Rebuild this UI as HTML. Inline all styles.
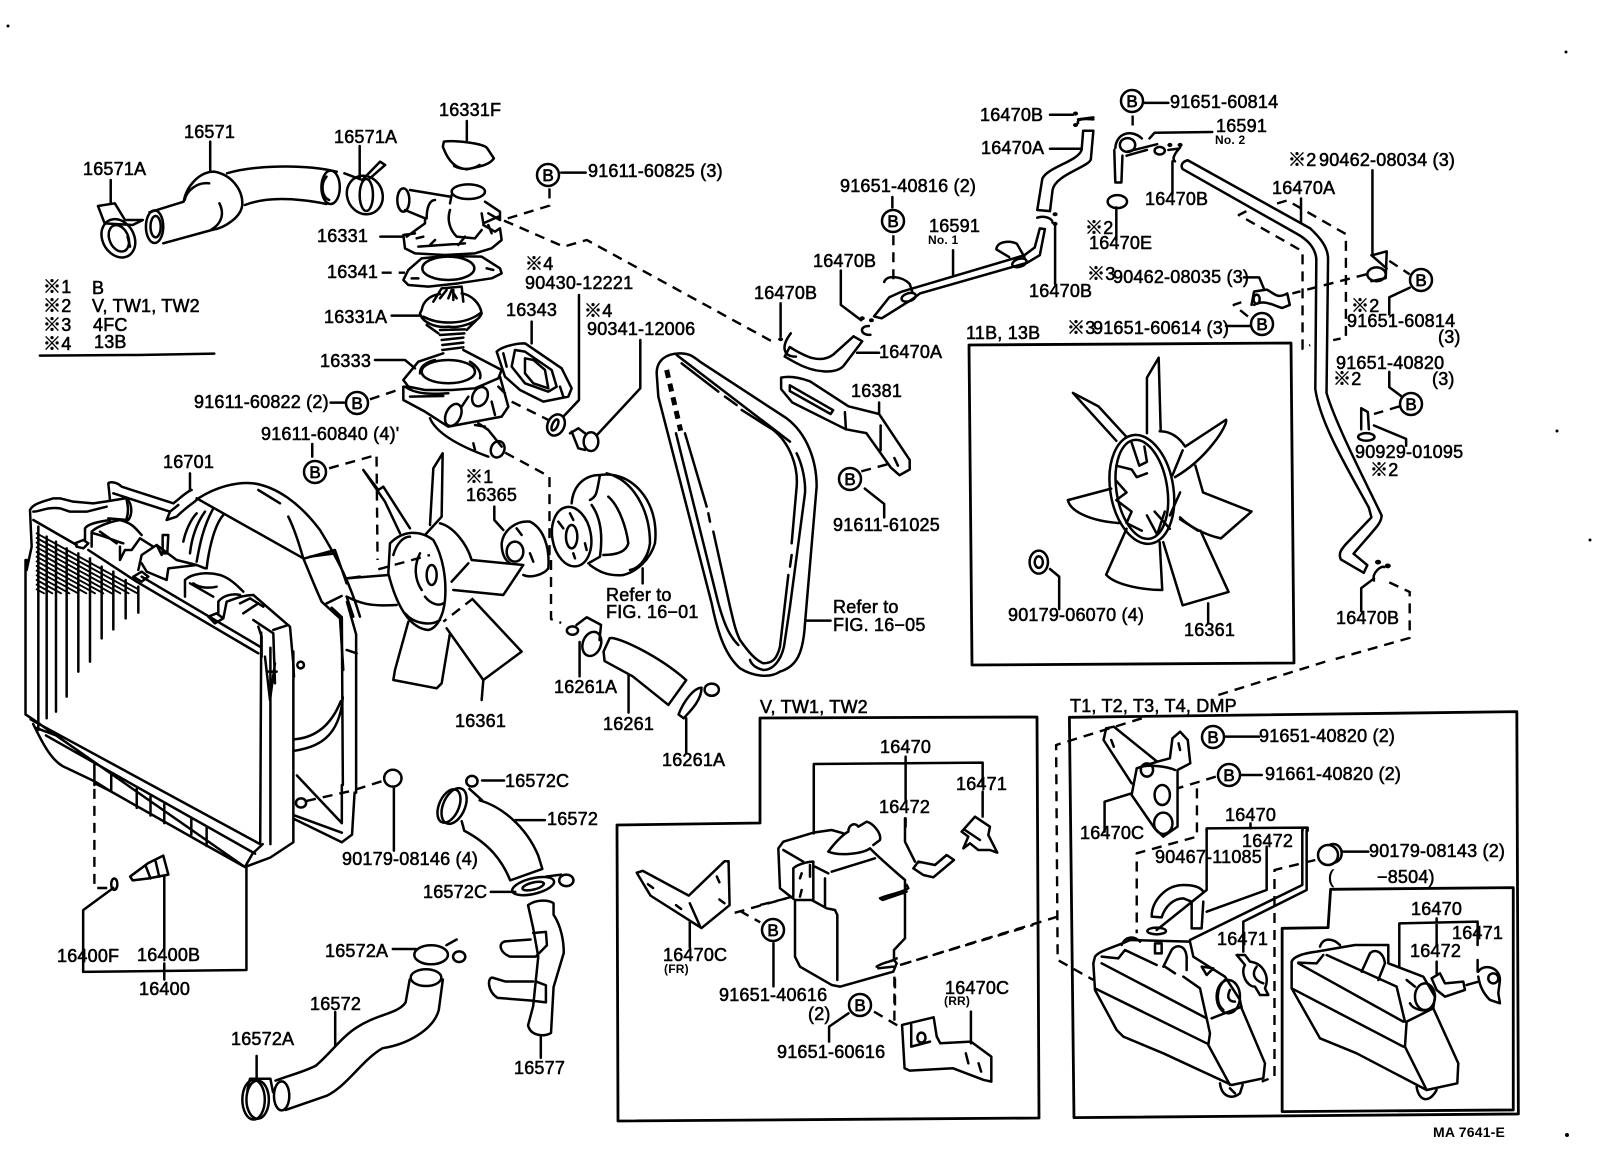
<!DOCTYPE html>
<html><head><meta charset="utf-8"><title>Cooling system parts diagram</title>
<style>
html,body{margin:0;padding:0;background:#fff}
svg{display:block}
svg *{vector-effect:non-scaling-stroke}
path,ellipse,circle{fill:none;stroke:#000;stroke-width:2.5;stroke-linejoin:round;stroke-linecap:round}
.d{stroke-dasharray:10 7;stroke-linecap:butt;stroke-width:2.4}
.th{stroke-width:1.9}
.w{fill:#fff}
.b{fill:#fff}
.dot{fill:#000;stroke-width:1}
text{font:18px "Liberation Sans","Noto Sans CJK JP",sans-serif;letter-spacing:.2px;fill:#000;stroke:#000;stroke-width:.55}
.s{font-size:12px;font-weight:bold;stroke-width:0}
.bl{font-size:17px;text-anchor:middle;stroke-width:.7;letter-spacing:0}
</style></head><body>
<svg xmlns="http://www.w3.org/2000/svg" width="1600" height="1158" viewBox="0 0 1600 1158">
<rect width="1600" height="1158" fill="#fff"/>

<!-- ZONE 1 top-left -->
<g transform="translate(0 60) scale(.5102 .3333)">
<path d="M293,457 L360,425 C365,380 390,335 420,335 C455,345 475,390 475,430 C475,470 440,505 415,510 L320,550 M445,340 C490,318 590,310 660,335 M480,435 C530,405 600,420 640,432 M362,420 C365,395 385,365 410,370 M430,430 C440,460 435,490 415,508 M412,245 L412,335"/>
<ellipse cx="303" cy="500" rx="17" ry="49"/><ellipse cx="305" cy="500" rx="10" ry="32"/>
<ellipse cx="648" cy="382" rx="18" ry="50"/><path d="M640,350 C628,370 630,410 645,420"/>
<ellipse cx="715" cy="405" rx="35" ry="58" transform="rotate(-5 715 405)"/><ellipse cx="718" cy="405" rx="13" ry="48"/>
<path d="M675,340 L710,360 L745,305 L755,315 L725,355 M705,258 L705,355"/>
<ellipse cx="232" cy="535" rx="32" ry="58" transform="rotate(-10 232 535)"/><ellipse cx="233" cy="535" rx="19" ry="40" transform="rotate(-10 233 535)"/>
<path d="M192,438 L225,430 L245,480 L280,480 L260,495 L205,490Z M217,360 L217,432 M250,530 L255,560"/>
<path d="M870,245 C890,240 950,250 955,265 L968,295 C960,315 940,320 915,328 C895,325 880,310 868,260Z M890,318 C905,330 925,330 940,315 M915,183 L915,240"/>
<path d="M1100,338 L1148,338 M648,1028 L680,1028 M612,1152 L612,1190 M1255,840 L1255,985 L1170,1125"/>
<path class="d" d="M1077,385 L1077,437 L985,480 L1105,560 L1150,540 L1520,850 M725,1018 L780,990 M645,1225 L738,1185 L740,1500 M990,1178 L1077,1250 L1077,1500"/>
<path d="M1530,730 L1530,830 M1550,820 C1530,860 1535,890 1560,890"/><circle class="dot" cx="1530" cy="838" r="4"/>
<path d="M78,887 L270,885 L420,881"/>
</g>

<!-- thermostat group (crop 385,170) -->
<g transform="translate(385 170) scale(.3333)">
<ellipse cx="55" cy="90" rx="18" ry="35"/><ellipse cx="250" cy="65" rx="50" ry="22"/>
<path d="M75,60 L195,80 M60,120 L120,145 L120,160 L65,200 M125,145 C125,110 135,90 150,90 M200,75 L195,100 M195,120 C185,150 195,180 215,200 L270,205 L290,180 M300,95 L345,125 L345,150 L310,130 M290,130 L295,160 L340,140 M295,165 L330,185 L345,175 L350,210 L320,235 L270,250 L180,255 L90,250 L60,235 L55,195 L90,190 M95,205 L115,200 M100,230 L240,220 M240,200 L220,225 M150,210 L135,225 M-14,200 L55,200 M310,165 L320,190"/>
<path d="M55,330 L70,300 L110,265 L180,258 L290,260 L345,295 L350,310 L320,325 L220,340 L130,350 L70,345 Z M80,325 L100,325 M305,295 L325,300"/>
<ellipse cx="190" cy="295" rx="78" ry="35"/>
<path class="d" d="M-10,308 L60,308"/>
<path d="M145,395 L170,355 L230,350 L235,395 M165,385 L185,360 M190,385 L200,360 L215,385 M205,360 L205,390 M110,420 C115,390 140,375 165,372 M230,370 C260,375 285,400 290,430 C280,460 220,475 190,470 C150,475 110,455 105,430 L110,420 M115,440 C160,465 240,465 285,430 M20,437 L105,437 M125,465 L160,490 M285,440 L245,480 M165,480 L240,478 M165,495 L238,490 M170,510 L235,503 M172,525 L235,518 M172,540 L235,532"/>
<path d="M-30,570 L60,570 L90,595 M55,630 L100,575 L175,550 M235,540 L350,600 L340,625 L270,655 L200,660 L120,660 L70,650 L55,630 M105,610 C105,585 130,575 150,570 M255,575 C280,590 290,610 285,625 M55,650 L55,690 L120,725 L190,770 L350,740 L370,710 L345,620 M75,680 L175,678 M60,650 C100,680 170,670 190,670 M230,710 L250,680 M135,745 C150,780 200,820 310,860 M350,830 L310,780 L280,760 M265,820 L270,840 M270,765 L300,770 M320,695 L330,735 M340,650 L360,670"/>
<ellipse cx="190" cy="605" rx="80" ry="35"/><ellipse cx="205" cy="735" rx="22" ry="35" transform="rotate(25 205 735)"/><ellipse cx="285" cy="680" rx="22" ry="30" transform="rotate(25 285 680)"/><ellipse cx="338" cy="838" rx="20" ry="25" transform="rotate(20 338 838)"/>
<path d="M335,545 C345,535 380,520 420,520 L530,595 L560,655 L550,680 L475,695 L405,660 L360,620 Z M390,540 L380,590 L420,640 L490,665 L515,650 L500,600 L420,545 Z M420,565 L420,610 L445,640 L490,655 L480,600 L445,570 Z M355,550 L365,590 M525,650 L535,680 M440,455 L440,520"/>
<ellipse cx="513" cy="765" rx="25" ry="33" transform="rotate(25 513 765)"/><ellipse cx="510" cy="765" rx="8" ry="18" transform="rotate(25 510 765)"/>
<path d="M582,375 L582,690 L535,740 M555,790 L580,775 L600,790 M560,785 L580,835 L600,840"/>
<ellipse cx="618" cy="815" rx="22" ry="28"/>
<path class="d" d="M380,695 L490,750"/>
</g>

<!-- radiator top & shroud (crop 10,470) -->
<g transform="translate(10 470) scale(.3333)">
<path class="th" d="M80,190 L385,358 M80,204 L382,370 M80,218 L356,370 M80,232 L331,370 M80,246 L305,370 M80,260 L280,370 M80,274 L255,370 M80,288 L229,370 M80,302 L204,370 M80,316 L178,370 M80,330 L153,370 M80,344 L127,370 M80,358 L102,370"/>
<path d="M85,170 V780 M110,200 V745 M138,215 V725 M170,235 V680 M205,250 V605 M240,265 V575 M275,290 V505 M310,305 V478 M347,330 V445 M385,350 V428"/>
<path d="M50,270 L50,300 L65,230 L60,120 C70,100 100,95 130,85 L150,85 L190,95 L250,100 L285,95 M70,125 C90,125 110,110 150,115 L180,125 L230,125 L290,110 M285,95 L345,85 C365,90 370,130 355,150 L295,145 M350,90 C355,110 355,130 350,145 M195,220 L220,210 L235,220 L220,235 L200,230Z M225,210 L225,175 C235,160 270,155 300,150 M245,230 L245,185 C260,170 300,155 330,150 C370,160 380,180 395,195 M70,150 L200,225 M380,335 L745,550 M395,320 L750,530 M235,240 L380,335 M250,190 C290,200 320,215 340,220 M270,185 L320,220 M330,230 L330,270 L345,240 L365,240 L390,205 L430,230 M385,300 L395,255 L440,225 L500,270 L560,285 L585,295 M440,225 L455,255 M458,195 L475,195 L472,250 L458,250Z M370,320 L395,305 L415,320 L395,335Z M395,280 L410,305 L470,330 L475,295 L560,285"/>
<path d="M525,380 L525,330 C545,310 590,305 630,315 C660,325 680,345 700,365 M540,340 L610,380 M550,340 C570,355 600,355 620,350 M595,440 L620,430 L640,445 L615,460Z M625,430 L625,395 C640,375 670,370 690,375 M640,445 L650,395 C680,385 700,375 730,375 M730,375 L840,470 L850,580 L852,620 M690,400 L720,385 L760,410 M700,430 L745,400 M730,450 L790,490 L795,640 M745,470 L755,500 L755,560 M790,480 L835,465 M765,560 L780,690 L795,580 M770,605 L800,605"/>
<circle cx="872" cy="585" r="10"/>
<path d="M295,40 C300,35 320,35 335,50 L490,100 C510,85 530,65 545,60 M295,40 L300,90 M310,70 L480,125 L470,150 M480,125 L505,105 M470,150 L500,140 C530,110 550,100 565,85 M565,85 C620,50 680,35 730,40 C800,50 870,100 930,180 C985,270 1020,340 1050,440 M560,85 L880,265 M885,265 L975,240 L1010,340 M900,260 L975,250 M880,265 C895,300 910,340 935,395 L990,445 L1000,600 M745,60 L810,100 M835,140 C860,190 875,250 880,265 M560,130 C540,150 525,190 520,215 M585,125 C560,160 545,205 540,250 M610,115 C580,170 570,220 560,275 M640,135 C610,170 595,250 590,295 M540,10 L540,60 M1010,325 L1050,320 M950,400 L995,378 M1010,380 L1030,440 M1010,540 L1040,550"/>
</g>

<!-- radiator lower -->
<g transform="translate(0 560) scale(.5102 .3814)">
<path d="M50,0 L50,405 L65,418 L480,805 L530,780 L575,740 L575,240 M512,190 L510,745 M60,418 L510,745 M90,460 L500,770 M495,770 L515,745 M480,805 L495,770 M530,230 L530,745 M65,430 C80,470 100,530 130,545 L185,580 L215,605 L400,745 L480,805 M185,535 L185,590 M218,560 L218,605 M268,600 L268,650 M295,620 L295,670 M322,640 L322,690 M375,675 L375,720 M405,700 L405,750 M185,585 L215,605 M70,440 L120,465"/>
<path d="M650,125 L670,150 L672,590 M680,110 L698,195 L698,610 M578,680 L670,740 L690,720 L695,610 M582,565 L670,690 L670,590 M578,670 L670,715 M578,500 C620,490 665,470 672,360 M578,470 C620,465 650,430 668,370"/>
<ellipse cx="590" cy="637" rx="10" ry="12"/>
<path class="d" d="M600,632 L690,605 L760,575"/>
<ellipse cx="770" cy="572" rx="17" ry="22"/><path d="M772,595 L772,762"/>
<path class="d" d="M185,600 L185,860 L215,860"/>
<ellipse cx="224" cy="850" rx="6" ry="15"/>
<path d="M222,860 L163,918 L163,1080 L483,1075 L483,805 M255,830 L290,795 L320,775 L330,825 L290,835 L260,840Z M285,800 L295,835 M305,790 L312,830 M322,830 L322,1020 M322,1058 L322,1100"/>
<path class="d" d="M1080,0 L1080,155 L1100,165"/>
<path d="M1195,205 C1210,200 1290,250 1345,315 L1310,380 L1240,305 L1185,265 L1183,240 Z M1130,170 L1150,150 L1178,170 L1175,210 M1136,215 L1136,305 M1330,405 C1340,370 1360,335 1375,335 C1375,370 1350,400 1340,415Z M1345,415 L1345,505 M1232,300 L1232,400"/>
<ellipse cx="1160" cy="220" rx="18" ry="32" transform="rotate(10 1160 220)"/><circle cx="1122" cy="185" r="11"/><ellipse cx="1395" cy="340" rx="14" ry="16"/>
<ellipse cx="890" cy="645" rx="22" ry="48" transform="rotate(15 890 645)"/><ellipse cx="880" cy="645" rx="20" ry="45" transform="rotate(15 880 645)"/><ellipse cx="925" cy="580" rx="11" ry="14"/>
<path d="M945,578 L988,578 M920,600 L945,630 M940,630 C980,645 1030,695 1055,775 L1063,810 L1000,840 C985,790 960,745 910,710 L905,685 M1010,682 L1068,682 M1070,830 L1100,825 M962,870 L1010,870"/>
<ellipse cx="1045" cy="855" rx="43" ry="20" transform="rotate(-20 1045 855)"/><ellipse cx="1045" cy="855" rx="22" ry="9" transform="rotate(-20 1045 855)"/><ellipse cx="1110" cy="840" rx="14" ry="15"/>
<path d="M1035,905 C1050,890 1075,890 1085,900 L1085,930 C1100,960 1105,1000 1105,1030 L1085,1120 L1080,1240 C1070,1250 1040,1250 1035,1220 L1045,1170 L1055,1040 L1045,965 Z M1045,978 L1070,975 L1072,1010 L1050,1040 L1000,1040 C980,1030 975,1005 990,1000 L1040,995 M1050,1105 L1070,1115 L1070,1160 L1040,1155 L975,1148 C955,1130 955,1095 965,1095 L990,1105 L1045,1105 M1060,1250 L1060,1305"/>
<ellipse cx="845" cy="1035" rx="33" ry="25"/><ellipse cx="900" cy="1040" rx="12" ry="14"/><ellipse cx="835" cy="1095" rx="30" ry="22"/>
<path d="M875,1010 L895,995 M770,1020 L815,1020 M803,1100 L795,1160 C780,1190 740,1190 700,1225 C670,1250 650,1290 620,1325 C600,1340 570,1350 540,1365 M868,1100 L860,1180 C850,1230 800,1270 750,1280 C710,1310 680,1380 640,1405 L560,1442 M657,1185 L657,1275 M485,1390 L490,1360 L530,1360 L535,1395 M503,1300 L503,1360"/>
<ellipse cx="552" cy="1405" rx="15" ry="38"/><ellipse cx="497" cy="1415" rx="22" ry="52"/><ellipse cx="505" cy="1415" rx="22" ry="50"/>
<path d="M1248,820 L1260,815 L1350,880 L1420,790 L1428,790 L1430,905 L1375,965 L1275,880Z M1352,950 L1352,1015 M1352,900 L1372,960 M1405,830 L1410,845 M1410,890 L1420,900 M1270,850 L1280,860 M1325,905 L1335,915"/>
<path class="d" d="M1440,925 L1560,880 M1450,920 L1490,950"/>
<path d="M1516,1005 L1516,1118"/>
</g>

<!-- left fan + pulley (crop 340,440) -->
<g transform="translate(340 440) scale(.3333)">
<path d="M308,40 L280,85 L270,255 M308,40 L305,230 L255,285 M70,90 L115,150 L130,140 L210,265 M70,90 L135,185 L180,280 M150,310 C190,270 240,270 280,300 C310,350 320,420 315,480 C310,530 290,565 265,570 C210,565 170,500 145,400 L150,310 M300,250 C340,260 380,310 395,360 M240,340 C220,380 225,420 245,450 M255,470 C270,490 295,500 310,490 M195,520 C220,550 270,560 300,540 M160,345 C170,310 190,290 210,290 M395,360 L550,375 L490,465 L340,450 M385,370 L335,425 M145,405 L20,415 M20,470 C60,490 90,500 170,495 M205,545 L165,690 L160,720 L290,745 L305,730 L330,580 M400,480 L545,635 L430,720 L320,565 M430,720 L425,780"/>
<ellipse cx="275" cy="405" rx="15" ry="30"/>
<path class="d" d="M400,475 L310,545 M115,388 L270,345"/>
<path d="M485,310 C490,270 530,240 570,245 C610,265 630,320 625,385 C610,405 570,415 550,405 M485,310 C485,340 495,360 510,370 M463,200 L463,240 L490,270 M530,265 L545,285 M570,340 L580,365"/>
<ellipse cx="525" cy="335" rx="25" ry="30"/>
<ellipse cx="695" cy="290" rx="58" ry="90" transform="rotate(-10 695 290)"/><ellipse cx="695" cy="290" rx="17" ry="35"/>
<path d="M755,195 C780,230 790,280 780,350 L745,370 M695,190 C700,130 740,105 780,105 M750,180 C770,170 770,160 780,105 M780,105 C870,90 960,180 945,310 C930,360 890,395 850,405 C800,410 770,390 750,375 M800,100 C880,120 930,210 930,310 C925,350 900,385 870,390 M805,170 C840,200 860,270 865,310 C860,330 840,345 790,345 M908,385 L908,430 M690,220 L700,240 M700,340 L705,355 M735,310 L740,330 M655,245 L670,265"/>
</g>

<!-- belt (crop 640,340) -->
<g transform="translate(640 340) scale(.3333)">
<path d="M50,100 C50,60 80,40 120,40 C150,40 160,50 180,65 L440,235 C500,280 530,360 530,440 L495,850 C490,940 470,980 420,995 C390,1015 340,1010 300,985 C260,950 235,890 215,790 L55,170 Z M110,45 L450,305 M470,340 C490,380 497,430 495,460 L450,800 L435,900 C430,950 405,990 370,990 C350,985 335,975 330,960 M108,280 L235,790 C255,860 270,890 295,915"/>
<path d="M125,70 L235,155 M255,170 L290,195 M305,210 L400,270 C450,310 475,380 470,440 L455,610 M455,645 L450,680 M445,705 L420,920 C410,960 395,970 370,970 C345,960 325,935 300,900 C285,870 280,840 270,800 L220,575 M210,545 L205,520 M200,500 L135,280"/>
<path d="M80,90 L122,272" style="stroke-dasharray:8 6;stroke-width:5;stroke-linecap:butt"/>
</g>

<!-- ZONE 2 top-right -->
<g transform="translate(800 60) scale(.5102 .3827)">
<path d="M490,143 L535,143 M545,165 C540,150 570,155 575,155 M545,155 L575,150 M555,185 L575,185 L570,260 C565,280 500,300 495,340 L490,395 L465,392 L475,310 C485,280 545,265 552,235 L555,185 M490,232 L552,232 M465,412 C480,405 495,415 495,425 M500,430 L500,585"/>
<circle class="dot" cx="540" cy="140" r="4"/><circle class="dot" cx="540" cy="170" r="4"/><circle class="dot" cx="500" cy="403" r="4"/><circle class="dot" cx="500" cy="428" r="4"/>
<path d="M470,440 L480,442 L470,510 L445,530 L235,610 L220,625 L160,675 L145,670 L175,620 L200,605 L440,510 L460,490 Z M165,580 C170,560 200,565 215,585 L220,605 M385,495 C385,475 410,470 425,480 L440,515 M385,495 L410,515 M300,497 L300,565 M181,358 L181,385"/>
<ellipse cx="213" cy="620" rx="15" ry="10" transform="rotate(-30 213 620)"/><ellipse cx="430" cy="530" rx="15" ry="10" transform="rotate(-30 430 530)"/>
<path class="d" d="M183,458 L183,575"/>
<path d="M80,550 L80,640 L120,680 M135,695 C115,695 118,720 138,718"/>
<circle class="dot" cx="122" cy="675" r="4"/><circle class="dot" cx="140" cy="680" r="4"/>
<path d="M105,722 L122,735 L85,800 C70,820 30,820 -10,790 L-30,775 L-20,750 C10,775 40,795 65,770 L105,722 M155,765 L112,765"/>
<ellipse cx="642" cy="222" rx="15" ry="18"/>
<path d="M620,320 L630,320 L632,250 M616,235 L618,320 M618,230 C620,190 650,180 670,205 M640,240 L700,220 M640,250 L680,235 M672,112 L722,112 M808,188 L695,190 L685,205 M722,235 L740,232 M735,265 C725,255 745,230 745,228 M730,265 L730,350"/>
<path class="d" d="M652,145 L652,190"/>
<ellipse cx="705" cy="237" rx="10" ry="10"/><circle class="dot" cx="725" cy="222" r="4"/><circle class="dot" cx="745" cy="222" r="4"/>
<ellipse cx="622" cy="370" rx="19" ry="17"/>
<path d="M620,385 L620,470"/>
<path d="M760,262 L1000,440 C1020,465 1035,490 1035,520 L1032,870 C1050,950 1100,1080 1140,1190 C1140,1210 1130,1220 1085,1290 L1112,1320 L1105,1340 L1060,1305 C1055,1290 1060,1280 1070,1265 L1120,1195 L1115,1170 C1070,1060 1020,950 1010,860 L1012,520 C1010,490 995,470 975,455 L750,285 C745,275 750,265 760,262 Z M982,362 L982,425"/>
<path class="d" d="M935,375 L955,367 L1070,455 L1070,725 L1045,732 M875,395 L860,405 L985,500 L985,755 L1000,745"/>
<path d="M1122,288 L1122,510 M1122,510 L1150,500 L1148,570 L1120,578 M1120,510 L1150,545 M1195,595 L1155,620 L1155,665"/>
<ellipse cx="1130" cy="560" rx="18" ry="18"/>
<path class="d" d="M1155,525 L1195,560 M1110,560 L965,610"/>
<path d="M870,568 L900,568 L910,600 M885,640 L890,605 L915,600 C930,610 935,625 955,610 L960,640 L945,648 C925,640 910,625 890,640 M835,695 L882,695"/>
<ellipse cx="895" cy="625" rx="6" ry="12"/>
<path class="d" d="M878,670 L850,640 L865,633"/>
<path d="M1155,815 L1155,855 L1180,880 M1100,910 L1113,920 L1115,965 M1100,910 L1100,965 M1125,955 L1188,990 L1188,1008"/>
<ellipse cx="1110" cy="985" rx="16" ry="10"/>
<path class="d" d="M1175,905 L1125,925"/>
<path d="M1100,1440 L1100,1380 L1125,1355 M1125,1360 C1120,1340 1140,1320 1145,1325"/>
<circle class="dot" cx="1133" cy="1312" r="5"/><circle class="dot" cx="1152" cy="1322" r="5"/>
<path class="d" d="M1155,1365 L1195,1390 L1195,1510 L1050,1565"/>
<path d="M680,975 L680,830 L703,778 L707,970 M535,870 L585,905 L640,985 M535,870 L620,995 M705,970 C730,970 745,990 755,1010 L835,940 C840,950 800,1040 735,1090 M790,1130 L885,1180 L825,1250 C790,1240 760,1215 745,1195 M790,1130 L775,1060 M610,1120 L525,1150 C530,1180 570,1205 625,1210 M640,1225 L600,1345 C620,1375 680,1385 710,1385 L705,1260 M712,1260 L750,1425 L840,1390 L785,1230 M780,1230 L745,1200 M750,1020 L730,1085 M745,1130 L725,1190"/>
<ellipse cx="670" cy="1122" rx="62" ry="143" transform="rotate(-6 670 1122)"/><ellipse cx="670" cy="1122" rx="50" ry="130" transform="rotate(-6 670 1122)"/>
<path d="M650,1000 L665,1060 L680,1050 L675,1010 M620,1060 L650,1070 L660,1090 L680,1080 M620,1100 L640,1130 L620,1150 L650,1180 L640,1210 L670,1230 M680,1190 L700,1240 L715,1180 M695,1180 L725,1225"/>
<path d="M490,1330 L508,1350 L508,1435 M800,1420 L800,1470"/>
<ellipse cx="468" cy="1312" rx="18" ry="30"/><ellipse cx="468" cy="1312" rx="8" ry="15"/>
<path d="M-37,830 C-20,825 0,830 20,840 L95,905 L155,925 L215,1045 L215,1070 L195,1085 L178,1065 L130,975 L90,965 L-15,895 L-37,860 Z M-20,850 L65,915 L60,925 L-20,865Z M88,920 L90,965 M158,955 L158,1020 M185,1040 L192,1060 M155,895 L155,925 M127,1120 L165,1160 L165,1195 M12,1465 L60,1465"/>
<path class="d" d="M120,1075 L175,1055"/>
</g>

<path d="M969,345 L1291,343 L1294,663 L972,665Z" style="stroke-width:2.8"/>
<path d="M760,718 L1037,717 L1039,1118 L618,1121 L617,825 L760,823 Z" style="stroke-width:2.8"/>

<!-- V tank (crop 760,790) -->
<g transform="translate(760 790) scale(.3333)">
<path d="M160,128 L215,120 L250,130 M205,185 C230,150 255,130 265,125 C265,105 285,95 295,110 L320,95 C340,100 365,130 360,150 L340,165 M205,185 C240,200 310,190 330,175 C350,195 400,240 435,270 L435,445 L402,480 L402,510 L410,520 L400,545 L240,590 L215,585 L120,530 L105,500 L105,330 L60,295 L55,175 L70,155 L160,128 M70,180 L130,215 M215,245 L345,205 M165,230 L205,250 M195,265 L195,350 M100,235 L100,320 M100,235 C110,225 140,215 160,215 L160,330 M105,330 L155,330 L200,355 L225,360 L232,375 L232,570 M360,325 C380,315 420,310 445,295 L440,285 M360,325 L368,330 L440,305 M350,530 C370,515 400,515 410,505 M355,535 L400,530 M125,250 L120,265 M125,300 L120,320 M150,225 L150,260 M435,85 L435,155 L465,215 M460,235 L475,215 L525,225 L560,195 L582,210 L520,262 L490,255Z M605,125 L645,80 L690,110 L685,135 L712,188 L690,180 L655,180 L630,160 L610,175 L625,140Z M615,120 L660,150"/>
<path class="d" d="M0,345 L100,320 M420,525 L820,405 M405,565 L405,660"/>
</g>

<!-- ZONE 4 lower-right -->
<g transform="translate(800 660) scale(.5102 .3333)">
<path d="M27,520 L27,312 L358,308 L358,375 M207,290 L207,420 M358,395 L358,470 M207,475 L207,500"/>
<path class="d" d="M185,950 L185,1095 M145,1055 L195,1100"/>
<path d="M95,1060 L57,1100 L57,1145 M200,1095 L262,1072 L268,1130 L275,1150 L335,1145 L375,1190 L375,1265 L360,1260 L300,1225 L215,1232 L205,1225Z M218,1095 L218,1160 L255,1145 M335,1055 L335,1150 M325,1180 L330,1210 M350,1210 L355,1235"/>
<ellipse cx="238" cy="1133" rx="8" ry="15"/>
<path d="M528,172 L1405,155 L1408,1362 L537,1373 Z" style="stroke-width:2.8"/>
<path class="d" d="M820,105 L1040,0 M670,175 L502,255 L505,900 L575,960 M505,770 L190,918 M815,350 L740,385 M778,385 L778,530 L660,580 L660,820 M1010,600 L930,630 L930,1250 L905,1265"/>
<path d="M600,205 L615,200 L700,305 L725,295 L730,235 L745,215 L760,240 L765,310 L740,330 L740,500 L712,530 L695,505 L650,405 L660,325 L700,305 M650,370 L595,240 L600,205 M660,325 C680,310 720,320 735,330 M650,400 L597,425 L597,515 M830,230 L900,230 M865,345 L905,345 M610,240 L615,260 M742,250 L745,270"/>
<ellipse cx="710" cy="405" rx="15" ry="30"/><ellipse cx="712" cy="490" rx="18" ry="32"/><ellipse cx="680" cy="330" rx="12" ry="20"/>
<path d="M883,490 L883,505 M797,505 L995,503 L995,512 M985,505 L985,512 M797,505 L797,512"/>
<path d="M1040,688 L1398,683 L1398,1350 L945,1355 L945,805 L1035,803 Z" style="stroke-width:2.8"/>
</g>

<!-- tanks (crop 1050,830) -->
<g transform="translate(1050 830) scale(.3333)">
<path d="M130,400 L135,380 C150,360 200,350 240,330 L420,335 L430,380 L525,440 L570,510 L575,535 L645,700 L640,745 L545,765 L340,670 L220,620 L200,600 L135,480 Z M155,400 L470,565 M135,475 L470,640 M470,565 L480,610 L475,645 L540,765 M485,565 L575,530 M215,345 C225,320 250,315 270,335 M155,380 L205,385 L225,360 L320,405 M345,410 L375,430 M400,440 L450,475 L470,565 M340,410 L365,360 C375,345 405,340 410,380 L410,420 M315,340 L315,370 L335,370 L335,340Z M455,410 L490,415 L470,435 Z M525,450 C500,470 495,520 520,540 M540,480 C530,500 535,515 555,515 M510,760 C515,800 545,810 570,790 L578,765 M540,775 L555,790"/>
<ellipse cx="535" cy="500" rx="35" ry="50"/>
<path d="M560,375 L585,375 L600,395 C640,400 660,440 645,475 L655,495 L630,495 L615,470 C590,470 570,430 585,405 Z M620,410 C605,430 610,450 640,460 M580,365 L580,275 L770,180 L770,0 M420,330 L757,165 L757,0 M470,245 L650,180 L650,50 M470,0 L470,180 L320,300 M305,260 C305,210 350,165 400,165 C430,165 450,170 460,185 M305,260 L335,262 C345,230 370,205 400,205 L425,215 L425,295 L455,295 L460,215"/>
<ellipse cx="320" cy="303" rx="28" ry="10"/>
<ellipse cx="850" cy="70" rx="25" ry="28"/>
<path d="M875,65 L955,65"/>
<path d="M725,475 L725,395 C730,380 760,370 800,365 L915,345 L1015,345 L1015,400 L1120,440 L1155,500 L1150,535 L1225,700 L1222,760 L1130,780 L920,670 L810,625 L725,475 M745,400 L1060,575 M725,475 L1060,650 M1070,575 L1065,650 L1130,780 M1070,575 L1150,535 M810,350 C820,320 850,325 870,345 M745,398 L800,400 L820,375 M830,375 L1040,470 L1065,575 M935,425 L960,370 C975,355 1000,365 1005,400 L985,450 M1070,450 L1095,470 M1080,520 C1090,540 1130,550 1150,530 M1100,770 C1105,810 1135,825 1160,780 M1048,410 L1048,280 L1283,275 L1283,345 M1160,265 L1160,345 M1160,395 L1160,430 M1145,445 L1170,430 L1185,460 L1240,455 L1245,480 L1185,500 L1160,480 Z M1250,465 L1285,455 M1283,390 L1283,425 M1285,425 C1300,400 1350,410 1350,450 L1345,490 L1350,520 L1320,510 C1300,490 1290,470 1285,440"/>
<ellipse cx="1125" cy="500" rx="30" ry="40"/><circle cx="1330" cy="445" r="15"/>
</g>

<!-- B circles -->
<g>
<circle class="b" cx="548" cy="175" r="11"/><circle class="b" cx="357" cy="403" r="11"/><circle class="b" cx="315" cy="472" r="11"/>
<circle class="b" cx="1132" cy="101" r="11"/><circle class="b" cx="893" cy="221" r="11"/><circle class="b" cx="1262" cy="324" r="11"/>
<circle class="b" cx="1421" cy="280" r="11"/><circle class="b" cx="1411" cy="404" r="11"/><circle class="b" cx="850" cy="479" r="11"/>
<circle class="b" cx="773" cy="930" r="11"/><circle class="b" cx="860" cy="1005" r="11"/><circle class="b" cx="1213" cy="737" r="11"/><circle class="b" cx="1229" cy="775" r="11"/><circle class="b" cx="1328" cy="855" r="10"/>
</g>
<circle class="dot" cx="8" cy="26" r="1"/><circle class="dot" cx="1566" cy="52" r="1"/><circle class="dot" cx="1567" cy="1135" r="1.5"/><circle class="dot" cx="1557" cy="431" r="1"/><circle class="dot" cx="1590" cy="540" r="1"/>

<!-- TEXT -->
<g>
<text class="bl" x="548" y="181">B</text><text class="bl" x="357" y="409">B</text><text class="bl" x="315" y="478">B</text>
<text class="bl" x="1132" y="107">B</text><text class="bl" x="893" y="227">B</text><text class="bl" x="1262" y="330">B</text>
<text class="bl" x="1421" y="286">B</text><text class="bl" x="1411" y="410">B</text><text class="bl" x="850" y="485">B</text>
<text class="bl" x="773" y="936">B</text><text class="bl" x="860" y="1011">B</text><text class="bl" x="1213" y="743">B</text><text class="bl" x="1229" y="781">B</text>

<text x="439" y="116">16331F</text><text x="184" y="138">16571</text><text x="334" y="143">16571A</text><text x="83" y="175">16571A</text>
<text x="588" y="177">91611-60825 (3)</text><text x="317" y="242">16331</text><text x="525" y="270">※4</text><text x="525" y="289">90430-12221</text>
<text x="327" y="278">16341</text><text x="584" y="317">※4</text><text x="587" y="335">90341-12006</text><text x="506" y="316">16343</text>
<text x="324" y="323">16331A</text><text x="320" y="367">16333</text><text x="194" y="408">91611-60822 (2)</text><text x="261" y="440">91611-60840 (4)'</text>
<text x="163" y="468">16701</text><text x="465" y="483">※1</text><text x="466" y="501">16365</text>
<text x="43" y="293">※1</text><text x="92" y="294">B</text><text x="43" y="312">※2</text><text x="92" y="312">V, TW1, TW2</text>
<text x="43" y="331">※3</text><text x="93" y="331">4FC</text><text x="43" y="350">※4</text><text x="94" y="348">13B</text>
<text x="754" y="299">16470B</text>

<text x="980" y="121">16470B</text><text x="1170" y="108">91651-60814</text><text x="1216" y="132">16591</text><text class="s" x="1215" y="144">No. 2</text>
<text x="981" y="154">16470A</text><text x="840" y="192">91651-40816 (2)</text><text x="1145" y="205">16470B</text>
<text x="1288" y="166">※2</text><text x="1319" y="166">90462-08034 (3)</text><text x="1272" y="194">16470A</text>
<text x="1085" y="234">※2</text><text x="1089" y="249">16470E</text><text x="929" y="232">16591</text><text class="s" x="928" y="244">No. 1</text>
<text x="813" y="267">16470B</text><text x="1087" y="280">※3</text><text x="1113" y="283">90462-08035 (3)</text><text x="1029" y="297">16470B</text>
<text x="1067" y="334">※3</text><text x="1093" y="334">91651-60614 (3)</text><text x="966" y="339">11B, 13B</text><text x="879" y="358">16470A</text>
<text x="1351" y="312">※2</text><text x="1347" y="327">91651-60814</text><text x="1438" y="343">(3)</text><text x="1336" y="369">91651-40820</text>
<text x="1333" y="385">※2</text><text x="1432" y="385">(3)</text><text x="851" y="397">16381</text><text x="833" y="531">91611-61025</text>
<text x="1355" y="458">90929-01095</text><text x="1370" y="476">※2</text><text x="833" y="613">Refer to</text><text x="833" y="631">FIG. 16−05</text>
<text x="1008" y="621">90179-06070 (4)</text><text x="1184" y="636">16361</text><text x="1336" y="624">16470B</text>

<text x="606" y="601">Refer to</text><text x="606" y="618">FIG. 16−01</text><text x="554" y="693">16261A</text><text x="455" y="727">16361</text>
<text x="603" y="730">16261</text><text x="662" y="766">16261A</text><text x="505" y="787">16572C</text><text x="547" y="825">16572</text>
<text x="342" y="865">90179-08146 (4)</text><text x="423" y="898">16572C</text><text x="57" y="962">16400F</text><text x="137" y="961">16400B</text>
<text x="139" y="995">16400</text><text x="325" y="957">16572A</text><text x="310" y="1010">16572</text><text x="231" y="1045">16572A</text><text x="514" y="1074">16577</text>

<text x="760" y="713">V, TW1, TW2</text><text x="1070" y="712">T1, T2, T3, T4, DMP</text><text x="880" y="753">16470</text><text x="956" y="790">16471</text>
<text x="879" y="813">16472</text><text x="1259" y="742">91651-40820 (2)</text><text x="1265" y="780">91661-40820 (2)</text><text x="1080" y="839">16470C</text>
<text x="1225" y="821">16470</text><text x="1242" y="847">16472</text><text x="1155" y="863">90467-11085</text><text x="1369" y="857">90179-08143 (2)</text>
<text x="1328" y="883">(</text><text x="1377" y="883">−8504)</text><text x="1411" y="915">16470</text><text x="1452" y="939">16471</text><text x="1410" y="957">16472</text>
<text x="1217" y="945">16471</text><text x="945" y="994">16470C</text><text class="s" x="944" y="1005">(RR)</text><text x="663" y="961">16470C</text><text class="s" x="664" y="973">(FR)</text>
<text x="719" y="1001">91651-40616</text><text x="808" y="1020">(2)</text><text x="777" y="1058">91651-60616</text>
<text x="1433" y="1137" style="font-size:14px;font-weight:bold;stroke-width:0">MA 7641-E</text>
</g>
</svg>
</body></html>
